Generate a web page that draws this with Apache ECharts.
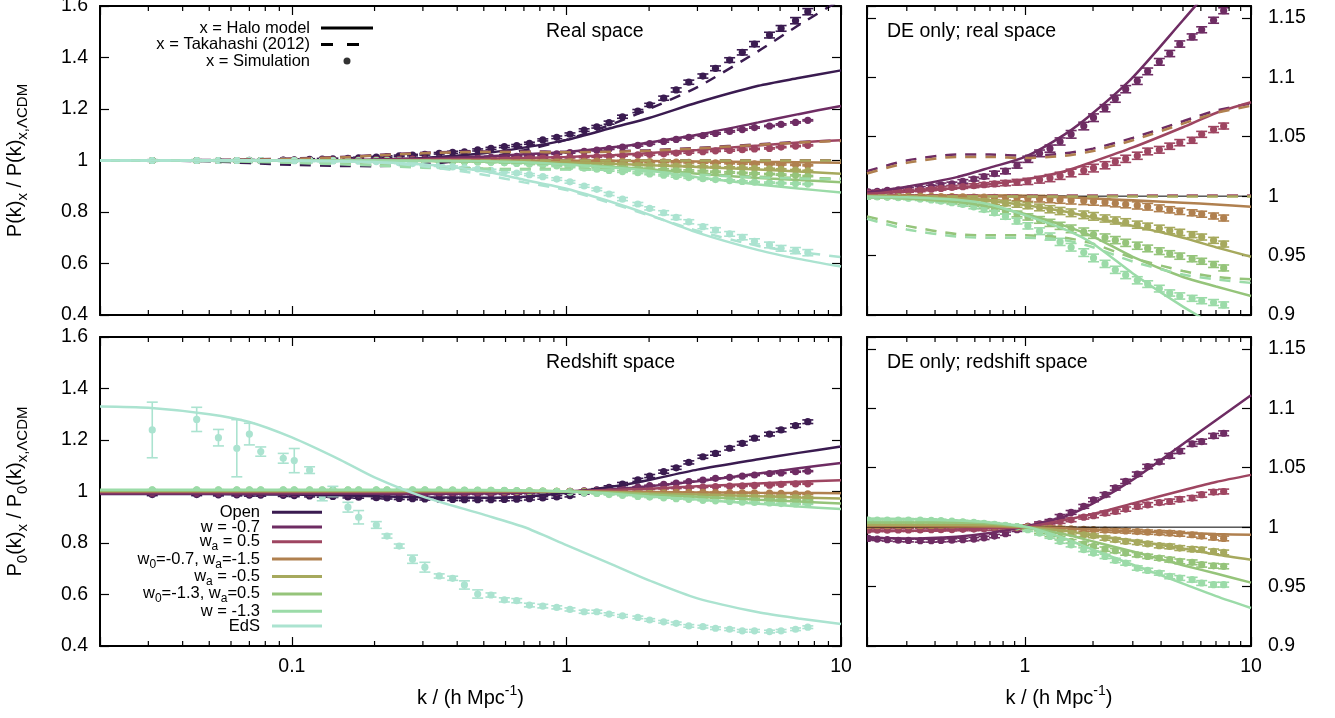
<!DOCTYPE html>
<html>
<head>
<meta charset="utf-8">
<title>P(k) ratios</title>
<script src="https://cdn.jsdelivr.net/npm/echarts@6/dist/echarts.min.js"></script>
<style>
html, body { margin: 0; padding: 0; background: #fff; }
#chart { width: 1335px; height: 718px; }
</style>
</head>
<body>
<div id="chart"></div>
<script>
const FONT = "'Liberation Sans', Arial, Helvetica, sans-serif";

// k grids
const kHalo = [0.02, 0.03, 0.05, 0.07, 0.1, 0.15, 0.2, 0.3, 0.5, 0.7, 1, 1.5, 2, 3, 5, 7, 10];
const kSim = [0.031, 0.045, 0.054, 0.063, 0.070, 0.077, 0.093, 0.102, 0.116, 0.129, 0.141, 0.160, 0.175,
  0.203, 0.222, 0.246, 0.275, 0.305, 0.344, 0.385, 0.425, 0.475, 0.531, 0.594, 0.659, 0.733, 0.820, 0.922,
  1.03, 1.16, 1.29, 1.43, 1.60, 1.82, 2.01, 2.26, 2.51, 2.79, 3.14, 3.49, 3.93, 4.37, 4.84, 5.49, 6.05, 6.83, 7.57];
const kMinor = [0.03, 0.04, 0.05, 0.06, 0.07, 0.08, 0.09, 0.2, 0.3, 0.4, 0.5, 0.6, 0.7, 0.8, 0.9, 2, 3, 4, 5, 6, 7, 8, 9];

// models
const models = ['Open', 'w = -0.7', 'wa = 0.5', 'w0=-0.7, wa=-1.5', 'wa = -0.5', 'w0=-1.3, wa=0.5', 'w = -1.3', 'EdS'];
const modelLabels = ['Open', 'w = -0.7', 'w{s|a} = 0.5', 'w{s|0}=-0.7, w{s|a}=-1.5', 'w{s|a} = -0.5', 'w{s|0}=-1.3, w{s|a}=0.5', 'w = -1.3', 'EdS'];
const colors = ['#3a1b50', '#6e2c63', '#9e4561', '#b0804f', '#a6a95d', '#95c47a', '#9bdba8', '#abe3d0'];

// real space: halo model (on kHalo)
const haloOpenR = [1.0, 1.0, 1.0, 1.0, 1.0, 1.001, 1.003, 1.01, 1.028, 1.05, 1.08, 1.13, 1.165, 1.225, 1.29, 1.32, 1.35];
const haloW07R = [1.0, 1.0, 1.0, 1.0, 1.0, 1.001, 1.003, 1.008, 1.016, 1.024, 1.033, 1.052, 1.07, 1.10, 1.148, 1.18, 1.212];
const haloWa05R = [1.0, 1.0, 1.0, 1.0, 1.0, 1.001, 1.002, 1.004, 1.007, 1.01, 1.014, 1.021, 1.029, 1.041, 1.058, 1.07, 1.079];
const haloW07waR = [1.0, 1.0, 1.0, 1.0, 1.0, 1.0, 1.0005, 1.0003, 1.0, 1.0, 0.9995, 0.999, 0.998, 0.9965, 0.9945, 0.993, 0.991];
const haloWam05R = [1.0, 1.0, 1.0, 1.0, 1.0, 1.0, 1.0, 0.9995, 0.998, 0.996, 0.9925, 0.987, 0.982, 0.975, 0.965, 0.957, 0.949];
const haloW13waR = [1.0, 1.0, 1.0, 1.0, 1.0, 1.0, 0.9995, 0.998, 0.995, 0.991, 0.985, 0.975, 0.966, 0.949, 0.932, 0.924, 0.916];
const haloW13R = [1.0, 1.0, 1.0, 1.0, 1.0, 1.0, 0.9998, 0.999, 0.997, 0.993, 0.984, 0.972, 0.96, 0.935, 0.907, 0.891, 0.876];
const haloEdSR = [1.0, 1.0, 1.0, 1.0, 0.999, 0.997, 0.994, 0.985, 0.958, 0.925, 0.89, 0.835, 0.79, 0.72, 0.652, 0.618, 0.588];

// real space: Takahashi (2012) (on kHalo)
const takOpenR = [1.0, 1.0, 0.997, 0.99, 0.983, 0.979, 0.978, 0.985, 1.01, 1.04, 1.08, 1.145, 1.2, 1.285, 1.425, 1.525, 1.625];
const takW07R = [1.0, 1.0, 1.002, 1.004, 1.008, 1.014, 1.021, 1.03, 1.035, 1.035, 1.034, 1.036, 1.04, 1.049, 1.063, 1.072, 1.078];
const takWa05R = [1.0005, 1.0005, 1.0005, 1.0005, 1.0005, 1.0005, 1.0005, 1.0005, 1.0005, 1.0005, 1.0005, 1.0005, 1.0005, 1.0005, 1.0005, 1.0005, 1.0005];
const takW07waR = [1.0, 1.0, 1.001, 1.003, 1.006, 1.012, 1.019, 1.028, 1.033, 1.033, 1.032, 1.034, 1.038, 1.047, 1.061, 1.07, 1.076];
const takWam05R = [0.9998, 0.9998, 0.9998, 0.9998, 0.9998, 0.9998, 0.9998, 0.9998, 0.9998, 0.9998, 0.9998, 0.9998, 0.9998, 0.9998, 0.9998, 0.9998, 0.9998];
const takW13waR = [1.0, 1.0, 0.999, 0.997, 0.993, 0.988, 0.983, 0.975, 0.968, 0.967, 0.967, 0.965, 0.96, 0.948, 0.937, 0.932, 0.93];
const takW13R = [1.0, 1.0, 0.998, 0.995, 0.991, 0.985, 0.981, 0.972, 0.966, 0.965, 0.965, 0.963, 0.957, 0.945, 0.934, 0.93, 0.927];
const takEdSR = [1.0, 1.0, 1.0, 1.0, 0.999, 0.996, 0.992, 0.978, 0.945, 0.915, 0.885, 0.83, 0.787, 0.727, 0.668, 0.645, 0.625];

// real space: simulations (on kSim)
const simOpenR = [1.0, 1.0, 1.0, 1.0, 1.001, 1.0, 1.002, 1.003, 1.004, 1.005, 1.006, 1.008, 1.010,
  1.013, 1.015, 1.018, 1.021, 1.024, 1.028, 1.032, 1.034, 1.041, 1.047, 1.054, 1.058, 1.067, 1.080, 1.090,
  1.102, 1.118, 1.131, 1.147, 1.170, 1.192, 1.216, 1.242, 1.274, 1.304, 1.328, 1.358, 1.390, 1.420, 1.452, 1.487, 1.513, 1.543, 1.578];
const simW07R = [1.0, 1.0, 1.0, 1.0, 1.0, 1.0, 1.001, 1.001, 1.001, 1.002, 1.002, 1.003, 1.003,
  1.0037, 1.004, 1.0048, 1.0054, 1.006, 1.0068, 1.008, 1.0096, 1.0104, 1.0124, 1.0144, 1.0165, 1.019, 1.021, 1.026,
  1.031, 1.036, 1.040, 1.046, 1.052, 1.059, 1.066, 1.074, 1.082, 1.090, 1.097, 1.105, 1.113, 1.120, 1.128, 1.134, 1.140, 1.148, 1.156];
const simWa05R = [1.0, 1.0, 1.0, 1.0, 1.0, 1.0, 1.001, 1.001, 1.001, 1.0015, 1.0015, 1.002, 1.002,
  1.0025, 1.003, 1.0035, 1.004, 1.0045, 1.005, 1.0058, 1.0065, 1.0073, 1.008, 1.0088, 1.0096, 1.0103, 1.011, 1.0117,
  1.0124, 1.0138, 1.0152, 1.0171, 1.0195, 1.0216, 1.0236, 1.026, 1.029, 1.0314, 1.034, 1.0376, 1.039, 1.042, 1.045, 1.047, 1.052, 1.056, 1.059];
const simW07waR = [1.0, 1.0, 1.0, 1.0, 1.0, 1.0, 1.0, 1.0, 1.0, 1.0, 1.0, 1.0, 1.0,
  1.0, 1.0, 1.0, 1.0, 1.0, 1.0, 0.9998, 0.9997, 0.9996, 0.9995, 0.9993, 0.9991, 0.999, 0.9988, 0.9985,
  0.9982, 0.9979, 0.9975, 0.997, 0.9966, 0.9961, 0.9956, 0.9949, 0.994, 0.9932, 0.9922, 0.9911, 0.9898, 0.9885, 0.9872, 0.986, 0.9848, 0.9833, 0.9816];
const simWam05R = [1.0, 1.0, 1.0, 1.0, 1.0, 1.0, 1.0, 1.0, 1.0, 1.0, 1.0, 1.0, 1.0,
  1.0, 0.9998, 0.9996, 0.9994, 0.9991, 0.9988, 0.9984, 0.998, 0.9976, 0.9971, 0.9965, 0.9958, 0.995, 0.9941, 0.9931,
  0.992, 0.9905, 0.989, 0.9875, 0.986, 0.9843, 0.983, 0.9812, 0.9795, 0.978, 0.976, 0.9745, 0.9728, 0.971, 0.9695, 0.9676, 0.9656, 0.9628, 0.9597];
const simW13waR = [1.0, 1.0, 1.0, 1.0, 1.0, 1.0, 1.0, 1.0, 1.0, 1.0, 1.0, 1.0, 1.0,
  0.9998, 0.9996, 0.9993, 0.999, 0.9986, 0.998, 0.9973, 0.9965, 0.9955, 0.9943, 0.993, 0.9914, 0.9895, 0.9873, 0.985,
  0.9825, 0.98, 0.9775, 0.975, 0.9725, 0.970, 0.9677, 0.9652, 0.963, 0.9607, 0.9583, 0.956, 0.9537, 0.9515, 0.9495, 0.9473, 0.9452, 0.9425, 0.9396];
const simW13R = [1.0, 1.0, 1.0, 1.0, 1.0, 1.0, 1.0, 1.0, 1.0, 1.0, 1.0, 1.0, 1.0,
  0.9998, 0.9995, 0.9992, 0.9988, 0.9983, 0.9976, 0.9968, 0.9958, 0.9945, 0.993, 0.991, 0.9887, 0.986, 0.9828, 0.979,
  0.975, 0.9705, 0.966, 0.9615, 0.957, 0.9525, 0.948, 0.943, 0.938, 0.9336, 0.9292, 0.926, 0.9222, 0.9185, 0.916, 0.914, 0.912, 0.9105, 0.9085];
const simEdSR = [1.0, 1.0, 1.0, 1.0, 1.0, 1.0, 0.999, 0.999, 0.999, 0.998, 0.998, 0.997, 0.997,
  0.996, 0.994, 0.991, 0.988, 0.984, 0.980, 0.975, 0.971, 0.967, 0.962, 0.957, 0.951, 0.945, 0.937, 0.928,
  0.917, 0.901, 0.888, 0.870, 0.850, 0.831, 0.814, 0.797, 0.779, 0.762, 0.743, 0.730, 0.715, 0.702, 0.686, 0.672, 0.659, 0.650, 0.642];

// real space: error bars (on kSim)
const errOpenR = [0.003, 0.003, 0.003, 0.003, 0.003, 0.003, 0.003, 0.003, 0.003, 0.003, 0.003, 0.003, 0.003,
  0.003, 0.003, 0.003, 0.003, 0.003, 0.003, 0.004, 0.004, 0.004, 0.004, 0.004, 0.004, 0.004, 0.004, 0.005,
  0.005, 0.005, 0.005, 0.006, 0.006, 0.006, 0.006, 0.008, 0.008, 0.008, 0.008, 0.009, 0.009, 0.010, 0.010, 0.011, 0.011, 0.012, 0.012];
const errDER = [0.001, 0.001, 0.001, 0.001, 0.001, 0.001, 0.001, 0.001, 0.001, 0.001, 0.001, 0.001, 0.001,
  0.001, 0.001, 0.001, 0.001, 0.0012, 0.0012, 0.0012, 0.0014, 0.0014, 0.0015, 0.0016, 0.0018, 0.002, 0.0022, 0.0024,
  0.0026, 0.0028, 0.003, 0.003, 0.0032, 0.0032, 0.0032, 0.003, 0.003, 0.003, 0.003, 0.0028, 0.0028, 0.0026, 0.0026, 0.0025, 0.0025, 0.0025, 0.0025];

// redshift space: halo model (on kHalo)
const haloOpenZ = [0.99, 0.99, 0.99, 0.989, 0.988, 0.985, 0.982, 0.978, 0.976, 0.98, 0.995, 1.02, 1.045, 1.085, 1.125, 1.15, 1.175];
const haloW07Z = [0.991, 0.991, 0.991, 0.991, 0.991, 0.991, 0.991, 0.9905, 0.992, 0.995, 1.0005, 1.009, 1.02, 1.04, 1.07, 1.09, 1.111];
const haloWa05Z = [0.997, 0.997, 0.997, 0.997, 0.997, 0.997, 0.997, 0.997, 0.998, 0.999, 1.0, 1.006, 1.011, 1.02, 1.031, 1.038, 1.044];
const haloW07waZ = [1.001, 1.001, 1.001, 1.001, 1.001, 1.001, 1.001, 1.001, 1.0005, 1.0005, 1.0, 0.999, 0.998, 0.9965, 0.995, 0.9942, 0.9936];
const haloWam05Z = [1.002, 1.002, 1.002, 1.002, 1.002, 1.002, 1.002, 1.002, 1.002, 1.0015, 1.0, 0.997, 0.993, 0.9885, 0.982, 0.977, 0.9726];
const haloW13waZ = [1.004, 1.004, 1.004, 1.004, 1.004, 1.004, 1.004, 1.004, 1.004, 1.003, 1.0, 0.994, 0.988, 0.9795, 0.968, 0.961, 0.9533];
const haloW13Z = [1.007, 1.007, 1.007, 1.007, 1.007, 1.007, 1.007, 1.0068, 1.0055, 1.004, 1.0005, 0.9905, 0.981, 0.9685, 0.9525, 0.942, 0.932];
const haloEdSZ = [1.33, 1.325, 1.30, 1.27, 1.21, 1.123, 1.055, 0.98, 0.91, 0.862, 0.792, 0.712, 0.655, 0.585, 0.531, 0.507, 0.485];

// redshift space: simulations (on kSim)
const simOpenZ = [0.988, 0.988, 0.987, 0.987, 0.986, 0.986, 0.985, 0.984, 0.983, 0.982, 0.981, 0.979, 0.978,
  0.976, 0.975, 0.973, 0.972, 0.971, 0.970, 0.969, 0.968, 0.968, 0.968, 0.969, 0.970, 0.972, 0.975, 0.979,
  0.984, 0.995, 1.006, 1.016, 1.029, 1.045, 1.060, 1.077, 1.092, 1.113, 1.135, 1.148, 1.168, 1.187, 1.207, 1.223, 1.239, 1.256, 1.271];
const simW07Z = [0.991, 0.991, 0.991, 0.991, 0.991, 0.991, 0.991, 0.991, 0.991, 0.991, 0.991, 0.9905, 0.9905,
  0.9905, 0.990, 0.9895, 0.989, 0.9888, 0.9886, 0.9886, 0.9888, 0.989, 0.9895, 0.990, 0.991, 0.9925, 0.9945, 0.9978,
  1.0006, 1.0028, 1.0048, 1.009, 1.0124, 1.0175, 1.023, 1.0273, 1.033, 1.0385, 1.0446, 1.051, 1.055, 1.060, 1.064, 1.070, 1.072, 1.0768, 1.079];
const simWa05Z = [0.9975, 0.9975, 0.9975, 0.9975, 0.9975, 0.9975, 0.9975, 0.9975, 0.9975, 0.9975, 0.9975, 0.9975, 0.9975,
  0.9975, 0.9975, 0.9975, 0.9976, 0.9976, 0.9977, 0.9978, 0.9979, 0.998, 0.9982, 0.9984, 0.9986, 0.9988, 0.999, 0.9993,
  1.0006, 1.002, 1.0034, 1.0048, 1.0062, 1.0084, 1.0096, 1.0118, 1.0132, 1.0152, 1.0174, 1.0188, 1.0207, 1.0216, 1.0235, 1.0245, 1.0273, 1.0295, 1.030];
const simW07waZ = [1.001, 1.001, 1.001, 1.001, 1.001, 1.001, 1.001, 1.001, 1.001, 1.001, 1.001, 1.001, 1.001,
  1.001, 1.001, 1.001, 1.001, 1.001, 1.001, 1.001, 1.001, 1.001, 1.001, 1.0008, 1.0006, 1.0004, 1.0002, 1.0001,
  1.0, 0.9995, 0.9992, 0.999, 0.9986, 0.9982, 0.9979, 0.9975, 0.9972, 0.9968, 0.9963, 0.9958, 0.9954, 0.995, 0.9944, 0.9936, 0.9925, 0.9913, 0.9905];
const simWam05Z = [1.003, 1.003, 1.003, 1.003, 1.003, 1.003, 1.003, 1.003, 1.003, 1.003, 1.003, 1.003, 1.003,
  1.003, 1.003, 1.003, 1.003, 1.003, 1.003, 1.003, 1.003, 1.0028, 1.0026, 1.0022, 1.0018, 1.0013, 1.0008, 1.0003,
  0.9998, 0.9992, 0.9978, 0.9964, 0.995, 0.9936, 0.9927, 0.9908, 0.9894, 0.988, 0.9872, 0.986, 0.9844, 0.9838, 0.9824, 0.9815, 0.981, 0.9796, 0.9787];
const simW13waZ = [1.005, 1.005, 1.005, 1.005, 1.005, 1.005, 1.005, 1.005, 1.005, 1.005, 1.005, 1.005, 1.005,
  1.005, 1.005, 1.005, 1.005, 1.005, 1.005, 1.005, 1.0048, 1.0045, 1.004, 1.0035, 1.0028, 1.002, 1.0012, 1.0003,
  0.9992, 0.9964, 0.9936, 0.9908, 0.988, 0.986, 0.9838, 0.9815, 0.9802, 0.9782, 0.9768, 0.9754, 0.974, 0.9726, 0.9712, 0.9704, 0.9684, 0.9675, 0.967];
const simW13Z = [1.006, 1.006, 1.006, 1.006, 1.006, 1.006, 1.006, 1.006, 1.006, 1.006, 1.006, 1.006, 1.006,
  1.006, 1.006, 1.006, 1.006, 1.006, 1.006, 1.0058, 1.0055, 1.005, 1.0045, 1.004, 1.0032, 1.0024, 1.0015, 1.0005,
  0.9978, 0.995, 0.9922, 0.988, 0.985, 0.981, 0.9782, 0.9754, 0.972, 0.9698, 0.9656, 0.9636, 0.9614, 0.9586, 0.9572, 0.9558, 0.953, 0.9516, 0.9516];
const simEdSZ = [1.239, 1.28, 1.209, 1.168, 1.223, 1.155, 1.129, 1.12, 1.083, 0.98, 1.0, 0.939, 0.9,
  0.87, 0.827, 0.788, 0.737, 0.706, 0.672, 0.663, 0.637, 0.602, 0.598, 0.579, 0.576, 0.559, 0.555, 0.55,
  0.542, 0.533, 0.533, 0.524, 0.517, 0.511, 0.501, 0.494, 0.488, 0.478, 0.475, 0.469, 0.465, 0.459, 0.459, 0.456, 0.459, 0.465, 0.473];

// redshift space: error bars (on kSim)
const errOpenZ = [0.004, 0.004, 0.004, 0.004, 0.004, 0.004, 0.004, 0.004, 0.004, 0.004, 0.004, 0.004, 0.004,
  0.004, 0.004, 0.004, 0.004, 0.004, 0.004, 0.004, 0.004, 0.004, 0.004, 0.005, 0.005, 0.005, 0.005, 0.005,
  0.005, 0.005, 0.005, 0.006, 0.006, 0.006, 0.006, 0.006, 0.006, 0.006, 0.006, 0.007, 0.007, 0.007, 0.007, 0.007, 0.007, 0.007, 0.007];
const errDEZ = [0.0012, 0.0012, 0.0012, 0.0012, 0.0012, 0.0012, 0.0012, 0.0012, 0.0012, 0.0012, 0.0012, 0.0012, 0.0012,
  0.0012, 0.0012, 0.0012, 0.0012, 0.0012, 0.0012, 0.0012, 0.0012, 0.0012, 0.0012, 0.0014, 0.0014, 0.0014, 0.0014, 0.0014,
  0.0014, 0.0016, 0.0016, 0.0016, 0.0016, 0.0016, 0.0016, 0.0018, 0.0018, 0.0018, 0.0018, 0.0018, 0.0018, 0.002, 0.002, 0.002, 0.002, 0.002, 0.002];
const errEdSZ = [0.108, 0.047, 0.032, 0.111, 0.042, 0.018, 0.019, 0.047, 0.013, 0.016, 0.020, 0.019, 0.026,
  0.013, 0.008, 0.008, 0.016, 0.019, 0.008, 0.008, 0.016, 0.016, 0.008, 0.008, 0.008, 0.007, 0.007, 0.006,
  0.006, 0.006, 0.006, 0.005, 0.005, 0.005, 0.005, 0.005, 0.005, 0.005, 0.005, 0.005, 0.005, 0.005, 0.005, 0.005, 0.005, 0.005, 0.005];

// reference line in the DE-only panels
const unityK = [0.2, 10];
const unityV = [1, 1];

const haloReal = [haloOpenR, haloW07R, haloWa05R, haloW07waR, haloWam05R, haloW13waR, haloW13R, haloEdSR];
const takReal = [takOpenR, takW07R, takWa05R, takW07waR, takWam05R, takW13waR, takW13R, takEdSR];
const simReal = [simOpenR, simW07R, simWa05R, simW07waR, simWam05R, simW13waR, simW13R, simEdSR];
const errReal = [errOpenR, errDER, errDER, errDER, errDER, errDER, errDER, errOpenR];
const haloZ = [haloOpenZ, haloW07Z, haloWa05Z, haloW07waZ, haloWam05Z, haloW13waZ, haloW13Z, haloEdSZ];
const simZ = [simOpenZ, simW07Z, simWa05Z, simW07waZ, simWam05Z, simW13waZ, simW13Z, simEdSZ];
const errZ = [errOpenZ, errDEZ, errDEZ, errDEZ, errDEZ, errDEZ, errDEZ, errEdSZ];

const panels = [
  { grid: 0, xMin: 0.02, yMin: 0.4, models: [0, 1, 2, 3, 4, 5, 6, 7], halo: haloReal, tak: takReal, sim: simReal, err: errReal, unity: false },
  { grid: 1, xMin: 0.02, yMin: 0.4, models: [0, 1, 2, 3, 4, 5, 6, 7], halo: haloZ, tak: null, sim: simZ, err: errZ, unity: false },
  { grid: 2, xMin: 0.2, yMin: 0.9, models: [1, 2, 3, 4, 5, 6], halo: haloReal, tak: takReal, sim: simReal, err: errReal, unity: true },
  { grid: 3, xMin: 0.2, yMin: 0.9, models: [1, 2, 3, 4, 5, 6], halo: haloZ, tak: null, sim: simZ, err: errZ, unity: true }
];

function pairs(ks, vs, xMin) {
  const out = [];
  for (let i = 0; i < ks.length; i++) if (ks[i] >= xMin) out.push([ks[i], vs[i]]);
  return out;
}

function triples(ks, vs, es, xMin) {
  const out = [];
  for (let i = 0; i < ks.length; i++) if (ks[i] >= xMin) out.push([ks[i], vs[i], es[i]]);
  return out;
}

// point with y error bar and caps
function simItem(params, api) {
  const k = api.value(0), v = api.value(1), e = api.value(2);
  const c = api.coord([k, v]);
  const t = api.coord([k, v + e]);
  const b = api.coord([k, v - e]);
  const color = api.visual('color');
  const st = { stroke: color, lineWidth: 1.6 };
  return {
    type: 'group',
    children: [
      { type: 'line', shape: { x1: c[0], y1: t[1], x2: c[0], y2: b[1] }, style: st },
      { type: 'line', shape: { x1: c[0] - 5.5, y1: t[1], x2: c[0] + 5.5, y2: t[1] }, style: st },
      { type: 'line', shape: { x1: c[0] - 5.5, y1: b[1], x2: c[0] + 5.5, y2: b[1] }, style: st },
      { type: 'circle', shape: { cx: c[0], cy: c[1], r: 3.6 }, style: { fill: color } }
    ]
  };
}

// minor ticks of the log axes, on bottom and top edge
function minorTickItem(params, api) {
  const x = api.coord([api.value(0), api.value(1)])[0];
  const cs = params.coordSys;
  const st = { stroke: '#000', lineWidth: 1.2 };
  return {
    type: 'group',
    children: [
      { type: 'line', shape: { x1: x, y1: cs.y + cs.height, x2: x, y2: cs.y + cs.height - 5 }, style: st },
      { type: 'line', shape: { x1: x, y1: cs.y, x2: x, y2: cs.y + 5 }, style: st }
    ]
  };
}

function logX(grid, min, position, labels, name) {
  return {
    type: 'log', logBase: 10, gridIndex: grid, min: min, max: 10, position: position,
    axisLine: { show: true, onZero: false, lineStyle: { color: '#000', width: 2 } },
    axisTick: { show: true, inside: true, length: 9, lineStyle: { color: '#000', width: 1.2 } },
    minorTick: { show: false },
    splitLine: { show: false },
    axisLabel: {
      show: labels, margin: 11, fontFamily: FONT, fontSize: 19.5, color: '#000',
      showMinLabel: true, showMaxLabel: true, hideOverlap: false,
      formatter: function (v) {
        const l = Math.log10(v);
        return Math.abs(l - Math.round(l)) < 1e-6 ? String(+v.toPrecision(3)) : '';
      }
    },
    name: name || '', nameLocation: 'middle', nameGap: 41, nameMoveOverlap: false,
    nameTextStyle: {
      fontFamily: FONT, fontSize: 20, color: '#000', lineHeight: 22,
      rich: { p: { fontFamily: FONT, fontSize: 14, color: '#000', height: 8, lineHeight: 8, verticalAlign: 'top' } }
    }
  };
}

function valY(grid, min, max, step, position, labels, margin, name) {
  return {
    type: 'value', gridIndex: grid, min: min, max: max, interval: step, position: position,
    axisLine: { show: true, onZero: false, lineStyle: { color: '#000', width: 2 } },
    axisTick: { show: true, inside: true, length: 9, lineStyle: { color: '#000', width: 1.2 } },
    splitLine: { show: false },
    axisLabel: {
      show: labels, margin: margin, fontFamily: FONT, fontSize: 19.5, color: '#000',
      showMinLabel: true, showMaxLabel: true, hideOverlap: false,
      formatter: function (v) {
        const r = Math.round((v - min) / step);
        return Math.abs(v - (min + r * step)) < 1e-6 ? String(+v.toFixed(2)) : '';
      }
    },
    name: name || '', nameLocation: 'middle', nameGap: 71.5, nameMoveOverlap: false,
    nameTextStyle: {
      fontFamily: FONT, fontSize: 20, color: '#000', lineHeight: 26,
      rich: { s: { fontFamily: FONT, fontSize: 15, color: '#000', height: 11, lineHeight: 11, verticalAlign: 'bottom' } }
    }
  };
}

const xName = 'k / (h Mpc{p|-1})';
const xAxes = [
  logX(0, 0.02, 'bottom', false), logX(0, 0.02, 'top', false),
  logX(1, 0.02, 'bottom', true, xName), logX(1, 0.02, 'top', false),
  logX(2, 0.2, 'bottom', false), logX(2, 0.2, 'top', false),
  logX(3, 0.2, 'bottom', true, xName), logX(3, 0.2, 'top', false)
];
const yAxes = [
  valY(0, 0.4, 1.6, 0.2, 'left', true, 12, 'P(k){s|x} / P(k){s|x,ΛCDM}'), valY(0, 0.4, 1.6, 0.2, 'right', false, 12),
  valY(1, 0.4, 1.6, 0.2, 'left', true, 12, 'P{s|0}(k){s|x} / P{s|0}(k){s|x,ΛCDM}'), valY(1, 0.4, 1.6, 0.2, 'right', false, 12),
  valY(2, 0.9, 1.16, 0.05, 'right', true, 17), valY(2, 0.9, 1.16, 0.05, 'left', false, 17),
  valY(3, 0.9, 1.16, 0.05, 'right', true, 17), valY(3, 0.9, 1.16, 0.05, 'left', false, 17)
];

const series = [];
panels.forEach(function (p) {
  const ax = 2 * p.grid;
  series.push({
    type: 'custom', xAxisIndex: ax, yAxisIndex: ax, silent: true, z: 5,
    data: kMinor.filter(function (k) { return k > p.xMin; }).map(function (k) { return [k, p.yMin]; }),
    encode: { x: 0, y: 1 }, renderItem: minorTickItem
  });
  if (p.unity) {
    series.push({
      type: 'line', xAxisIndex: ax, yAxisIndex: ax, silent: true, symbol: 'none',
      data: pairs(unityK, unityV, p.xMin), lineStyle: { color: '#000', width: 1 }
    });
  }
  p.models.forEach(function (m) {
    const color = colors[m];
    series.push({
      type: 'line', name: models[m], xAxisIndex: ax, yAxisIndex: ax, silent: true,
      symbol: 'none', showSymbol: false, smooth: 0.25,
      data: pairs(kHalo, p.halo[m], p.xMin),
      itemStyle: { color: color }, lineStyle: { color: color, width: 2.5 }
    });
    if (p.tak) {
      series.push({
        type: 'line', name: models[m], xAxisIndex: ax, yAxisIndex: ax, silent: true,
        symbol: 'none', showSymbol: false, smooth: 0.25,
        data: pairs(kHalo, p.tak[m], p.xMin),
        itemStyle: { color: color }, lineStyle: { color: color, width: 2.5, type: [11, 9] }
      });
    }
    series.push({
      type: 'custom', name: models[m], xAxisIndex: ax, yAxisIndex: ax, silent: true, clip: true,
      data: triples(kSim, p.sim[m], p.err[m], p.xMin),
      encode: { x: 0, y: 1 }, renderItem: simItem, itemStyle: { color: color }
    });
  });
});

// key entries (no data)
series.push({ type: 'line', name: 'x = Halo model', xAxisIndex: 0, yAxisIndex: 0, data: [], symbol: 'none', itemStyle: { color: '#000' }, lineStyle: { color: '#000', width: 2.5 } });
series.push({ type: 'line', name: 'x = Takahashi (2012)', xAxisIndex: 0, yAxisIndex: 0, data: [], symbol: 'none', itemStyle: { color: '#000' }, lineStyle: { color: '#000', width: 2.5, type: [11, 9] } });
series.push({ type: 'scatter', name: 'x = Simulation', xAxisIndex: 0, yAxisIndex: 0, data: [], itemStyle: { color: '#000' } });

const titleStyle = { fontFamily: FONT, fontSize: 19.5, fontWeight: 'normal', color: '#000' };

const option = {
  animation: false,
  backgroundColor: '#fff',
  title: [
    { text: 'Real space', left: 546, top: 22, padding: 0, textStyle: titleStyle },
    { text: 'Redshift space', left: 546, top: 353, padding: 0, textStyle: titleStyle },
    { text: 'DE only; real space', left: 887, top: 22, padding: 0, textStyle: titleStyle },
    { text: 'DE only; redshift space', left: 887, top: 353, padding: 0, textStyle: titleStyle }
  ],
  grid: [
    { left: 100, top: 6, width: 741, height: 309, containLabel: false, outerBoundsMode: 'none' },
    { left: 100, top: 337, width: 741, height: 309, containLabel: false, outerBoundsMode: 'none' },
    { left: 867, top: 6, width: 384, height: 309, containLabel: false, outerBoundsMode: 'none' },
    { left: 867, top: 337, width: 384, height: 309, containLabel: false, outerBoundsMode: 'none' }
  ],
  legend: [
    {
      data: [
        { name: 'x = Halo model', icon: 'path://M0,0H52V3H0Z', itemStyle: { color: '#000', borderWidth: 0 } },
        { name: 'x = Takahashi (2012)', icon: 'path://M0,0H12V3H0Z M26,0H38V3H26Z M52,0V3Z', itemStyle: { color: '#000', borderWidth: 0 } },
        { name: 'x = Simulation', icon: 'circle', itemStyle: { color: '#000', borderWidth: 0 } }
      ],
      orient: 'vertical', align: 'right', right: 962, top: 19.5, padding: 0, itemGap: -0.5,
      itemWidth: 52, itemHeight: 7, selectedMode: false,
      textStyle: { fontFamily: FONT, fontSize: 16.5, color: '#000', lineHeight: 17, padding: [0, 6, 0, 0] }
    },
    {
      data: models.map(function (m, i) { return { name: m, icon: 'rect', itemStyle: { color: colors[i], borderWidth: 0 } }; }),
      formatter: function (n) { return modelLabels[models.indexOf(n)]; },
      orient: 'vertical', align: 'right', right: 1013, top: 503.8, padding: 0, itemGap: -2.3,
      itemWidth: 50, itemHeight: 3, selectedMode: false,
      textStyle: {
        fontFamily: FONT, fontSize: 16.5, color: '#000', lineHeight: 16.4, padding: [0, 7, 0, 0],
        rich: { s: { fontFamily: FONT, fontSize: 12, color: '#000', height: 6, lineHeight: 6, verticalAlign: 'bottom' } }
      }
    }
  ],
  xAxis: xAxes,
  yAxis: yAxes,
  series: series
};

const chart = echarts.init(document.getElementById('chart'), null, { renderer: 'canvas' });
chart.setOption(option);
</script>
</body>
</html>
